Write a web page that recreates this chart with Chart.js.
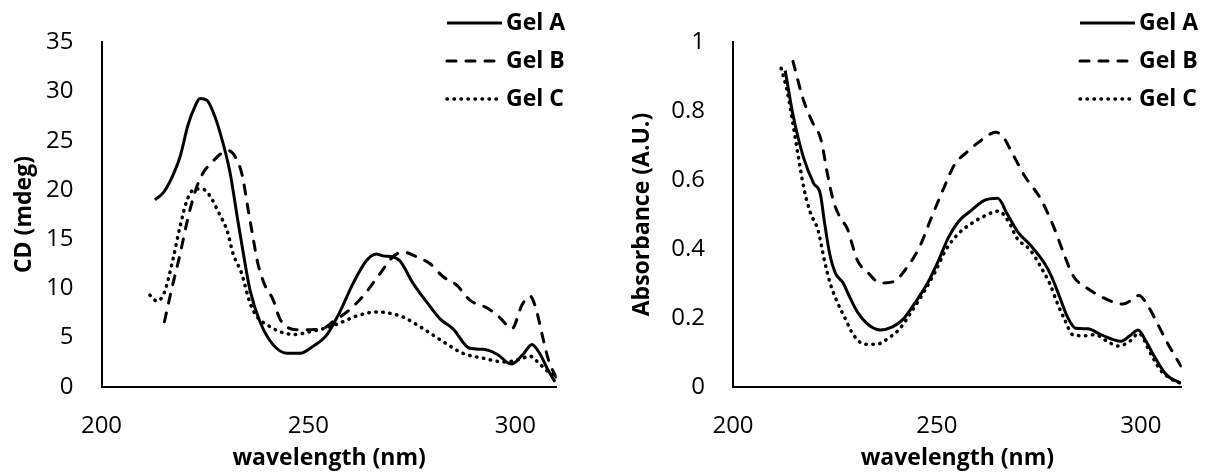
<!DOCTYPE html>
<html>
<head>
<meta charset="utf-8">
<script src="https://cdn.jsdelivr.net/npm/chart.js@4.4.1/dist/chart.umd.min.js"></script>
<style>
  body { margin: 0; background: #fff; }
  #wrap { position: relative; width: 1211px; height: 472px; }
  canvas { position: absolute; top: 0; }
  #cdChart { left: 0; }
  #absChart { left: 605px; }
</style>
</head>
<body>
<div id="wrap">
  <canvas id="cdChart" width="605" height="472"></canvas>
  <canvas id="absChart" width="606" height="472"></canvas>
</div>
<script>
// series names
const gelNames = ['Gel A', 'Gel B', 'Gel C'];

// x tick labels shown on both charts
const wavelengthTicks = [200, 250, 300];

// CD spectra (mdeg) vs wavelength (nm)
const cdGelANm = [212.9, 214.9, 216.6, 219.0, 220.9, 222.6, 223.8, 225.5, 226.9, 228.6, 231.0, 232.9, 234.7, 235.9, 238.3, 241.4, 244.8, 248.0, 251.1, 254.5, 257.6, 260.8, 264.0, 266.4, 268.0, 270.4, 272.1, 275.3, 278.6, 281.8, 284.9, 289.0, 292.2, 295.6, 299.0, 301.9, 304.0, 306.0, 307.9, 309.6];
const cdGelA   = [19.0, 19.7, 20.9, 23.4, 26.6, 28.5, 29.3, 29.1, 28.0, 25.9, 21.9, 17.0, 12.5, 9.8, 6.6, 4.3, 3.4, 3.4, 4.1, 5.3, 7.6, 10.5, 12.8, 13.5, 13.3, 13.2, 12.8, 10.5, 8.6, 6.9, 5.9, 3.9, 3.8, 3.3, 2.3, 3.3, 4.3, 3.3, 1.7, 0.5];

const cdGelBNm = [215.2, 217.0, 219.0, 220.7, 222.6, 224.5, 226.7, 228.6, 230.6, 232.3, 234.0, 235.4, 236.6, 237.8, 239.5, 241.4, 243.1, 245.1, 247.2, 250.4, 253.5, 255.9, 259.3, 263.2, 267.3, 270.4, 272.8, 276.2, 279.4, 282.5, 285.9, 289.0, 293.2, 296.3, 299.2, 301.6, 303.6, 305.0, 306.7, 308.1, 309.8];
const cdGelB   = [6.6, 10.0, 13.5, 16.8, 19.8, 21.7, 22.8, 23.6, 24.0, 23.4, 21.5, 18.1, 15.2, 12.5, 10.3, 8.9, 6.9, 6.0, 5.8, 5.8, 5.9, 6.6, 7.6, 9.2, 11.5, 13.2, 13.7, 13.2, 12.5, 11.2, 10.3, 8.8, 8.0, 7.0, 5.9, 8.3, 9.2, 7.9, 4.9, 2.6, 1.0];

const cdGelCNm = [211.7, 213.4, 215.2, 217.3, 219.0, 220.7, 222.6, 224.3, 226.2, 228.2, 230.4, 231.8, 233.8, 235.9, 237.8, 240.0, 243.1, 246.7, 250.4, 254.5, 258.3, 261.7, 266.6, 270.4, 272.8, 277.7, 282.5, 287.3, 292.2, 297.5, 301.1, 303.6, 305.2, 307.7, 310.0];
const cdGelC   = [9.3, 8.7, 9.6, 13.0, 16.3, 19.0, 20.1, 20.1, 19.4, 17.8, 15.8, 13.5, 11.6, 8.5, 7.0, 6.3, 5.6, 5.3, 5.6, 6.0, 6.6, 7.2, 7.6, 7.4, 7.1, 5.9, 4.6, 3.4, 2.9, 2.5, 2.8, 3.1, 2.6, 1.6, 1.0];

// absorbance spectra (A.U.) vs wavelength (nm)
const absGelANm = [212.8, 214.7, 217.2, 219.7, 221.4, 222.4, 223.7, 225.1, 227.0, 228.5, 230.5, 233.2, 236.1, 239.1, 241.8, 244.7, 247.7, 250.4, 252.8, 255.3, 258.2, 261.4, 264.9, 267.3, 269.8, 273.0, 276.4, 278.1, 280.1, 282.1, 284.0, 287.0, 290.2, 295.1, 297.3, 299.3, 301.2, 303.2, 306.2, 309.8];
const absGelA   = [0.918, 0.790, 0.669, 0.592, 0.560, 0.480, 0.386, 0.330, 0.301, 0.263, 0.217, 0.180, 0.165, 0.174, 0.197, 0.245, 0.301, 0.367, 0.433, 0.480, 0.510, 0.540, 0.547, 0.500, 0.450, 0.410, 0.358, 0.320, 0.260, 0.200, 0.170, 0.168, 0.151, 0.132, 0.148, 0.165, 0.133, 0.090, 0.035, 0.010];

const absGelBNm = [214.7, 217.2, 219.4, 221.6, 223.1, 224.6, 226.3, 228.0, 229.2, 230.5, 233.2, 236.1, 239.3, 242.8, 245.7, 248.6, 251.6, 254.3, 257.2, 260.9, 264.4, 266.1, 268.6, 271.5, 275.4, 278.6, 281.1, 283.5, 286.7, 290.2, 293.4, 295.6, 297.5, 299.5, 301.7, 304.2, 306.6, 309.8];
const absGelB   = [0.945, 0.835, 0.770, 0.716, 0.621, 0.540, 0.490, 0.460, 0.414, 0.367, 0.330, 0.301, 0.305, 0.349, 0.405, 0.490, 0.575, 0.645, 0.680, 0.716, 0.739, 0.728, 0.675, 0.612, 0.546, 0.465, 0.386, 0.320, 0.287, 0.262, 0.245, 0.240, 0.250, 0.265, 0.235, 0.180, 0.125, 0.060];

const absGelCNm = [211.8, 213.3, 214.7, 216.0, 217.4, 218.9, 220.9, 222.4, 223.8, 225.6, 227.5, 229.5, 232.4, 235.1, 238.1, 241.0, 243.7, 246.7, 249.4, 252.3, 255.3, 258.2, 261.9, 265.1, 267.8, 269.5, 273.0, 275.4, 277.6, 279.6, 281.3, 283.3, 286.0, 288.7, 291.6, 294.4, 297.3, 299.5, 302.2, 304.9, 307.9, 309.8];
const absGelC   = [0.925, 0.857, 0.763, 0.669, 0.575, 0.508, 0.452, 0.367, 0.301, 0.245, 0.198, 0.151, 0.123, 0.123, 0.141, 0.170, 0.217, 0.273, 0.330, 0.400, 0.445, 0.472, 0.497, 0.510, 0.475, 0.433, 0.395, 0.349, 0.301, 0.240, 0.195, 0.151, 0.148, 0.151, 0.133, 0.118, 0.132, 0.155, 0.100, 0.047, 0.019, 0.010];

Chart.defaults.font.family = "'Open Sans', sans-serif";
Chart.defaults.color = '#000';

function toPoints(xs, ys) {
    return xs.map((x, i) => ({ x: x, y: ys[i] }));
}

// line styles for the three gels: solid, dashed, dotted
const lineStyles = [
    { borderDash: [], borderCapStyle: 'butt', borderWidth: 3 },
    { borderDash: [9, 10], borderCapStyle: 'round', borderWidth: 3 },
    { borderDash: [0.5, 6.5], borderCapStyle: 'round', borderWidth: 3.5 }
];

function makeDatasets(series) {
    return series.map((s, i) => Object.assign({
        label: gelNames[i],
        data: toPoints(s[0], s[1]),
        borderColor: '#000',
        backgroundColor: '#000',
        pointRadius: 0,
        fill: false,
        cubicInterpolationMode: 'monotone'
    }, lineStyles[i]));
}

// legend drawn as a stacked list in the top right corner
const sideLegend = {
    id: 'sideLegend',
    afterDraw(chart, args, opts) {
        const ctx = chart.ctx;
        ctx.save();
        chart.data.datasets.forEach((ds, i) => {
            const y = opts.top + i * opts.rowGap;
            ctx.beginPath();
            ctx.setLineDash(ds.borderDash || []);
            ctx.lineCap = ds.borderCapStyle;
            ctx.lineWidth = ds.borderWidth;
            ctx.strokeStyle = ds.borderColor;
            ctx.moveTo(opts.left, y);
            ctx.lineTo(opts.left + opts.lineLength, y);
            ctx.stroke();
            ctx.setLineDash([]);
            ctx.font = "bold 23px 'Open Sans', sans-serif";
            ctx.fillStyle = '#000';
            ctx.textBaseline = 'middle';
            ctx.textAlign = 'left';
            ctx.fillText(ds.label, opts.left + opts.lineLength + opts.gap, y);
        });
        ctx.restore();
    }
};

function makeOptions(cfg) {
    return {
        responsive: false,
        animation: false,
        devicePixelRatio: 1,
        layout: { padding: { top: 32.7, right: cfg.padRight, bottom: 0, left: 0 } },
        plugins: {
            legend: { display: false },
            tooltip: { enabled: false },
            sideLegend: cfg.legend
        },
        scales: {
            x: {
                type: 'linear',
                min: 200,
                max: 310,
                afterFit: (scale) => { scale.height = 85.3; },
                afterBuildTicks: (scale) => {
                    scale.ticks = wavelengthTicks.map(v => ({ value: v }));
                },
                grid: { display: false, drawTicks: false },
                border: { display: true, color: '#000', width: 2 },
                ticks: { padding: 25, font: { size: 24 } },
                title: {
                    display: true,
                    text: 'wavelength (nm)',
                    font: { size: 23, weight: 'bold' },
                    padding: { top: 0, bottom: 0 }
                }
            },
            y: {
                min: 0,
                max: cfg.yMax,
                afterFit: (scale) => { scale.width = cfg.yWidth; },
                grid: { display: false, drawTicks: false },
                border: { display: true, color: '#000', width: 2 },
                ticks: {
                    stepSize: cfg.yStep,
                    padding: 28,
                    font: { size: 24 },
                    callback: (v) => String(Number(v.toFixed(2)))
                },
                title: {
                    display: true,
                    text: cfg.yTitle,
                    font: { size: 23, weight: 'bold' },
                    padding: { top: cfg.yTitlePad, bottom: 0 }
                }
            }
        }
    };
}

new Chart(document.getElementById('cdChart').getContext('2d'), {
    type: 'line',
    data: {
        datasets: makeDatasets([[cdGelANm, cdGelA], [cdGelBNm, cdGelB], [cdGelCNm, cdGelC]])
    },
    options: makeOptions({
        padRight: 48.3, yWidth: 101.5, yMax: 35, yStep: 5,
        yTitle: 'CD (mdeg)', yTitlePad: 11,
        legend: { left: 447, top: 23, rowGap: 38, lineLength: 55, gap: 4 }
    }),
    plugins: [sideLegend]
});

new Chart(document.getElementById('absChart').getContext('2d'), {
    type: 'line',
    data: {
        datasets: makeDatasets([[absGelANm, absGelA], [absGelBNm, absGelB], [absGelCNm, absGelC]])
    },
    options: makeOptions({
        padRight: 29.3, yWidth: 128, yMax: 1, yStep: 0.2,
        yTitle: 'Absorbance (A.U.)', yTitlePad: 24,
        legend: { left: 475, top: 23, rowGap: 38, lineLength: 55, gap: 4 }
    }),
    plugins: [sideLegend]
});
</script>
</body>
</html>
